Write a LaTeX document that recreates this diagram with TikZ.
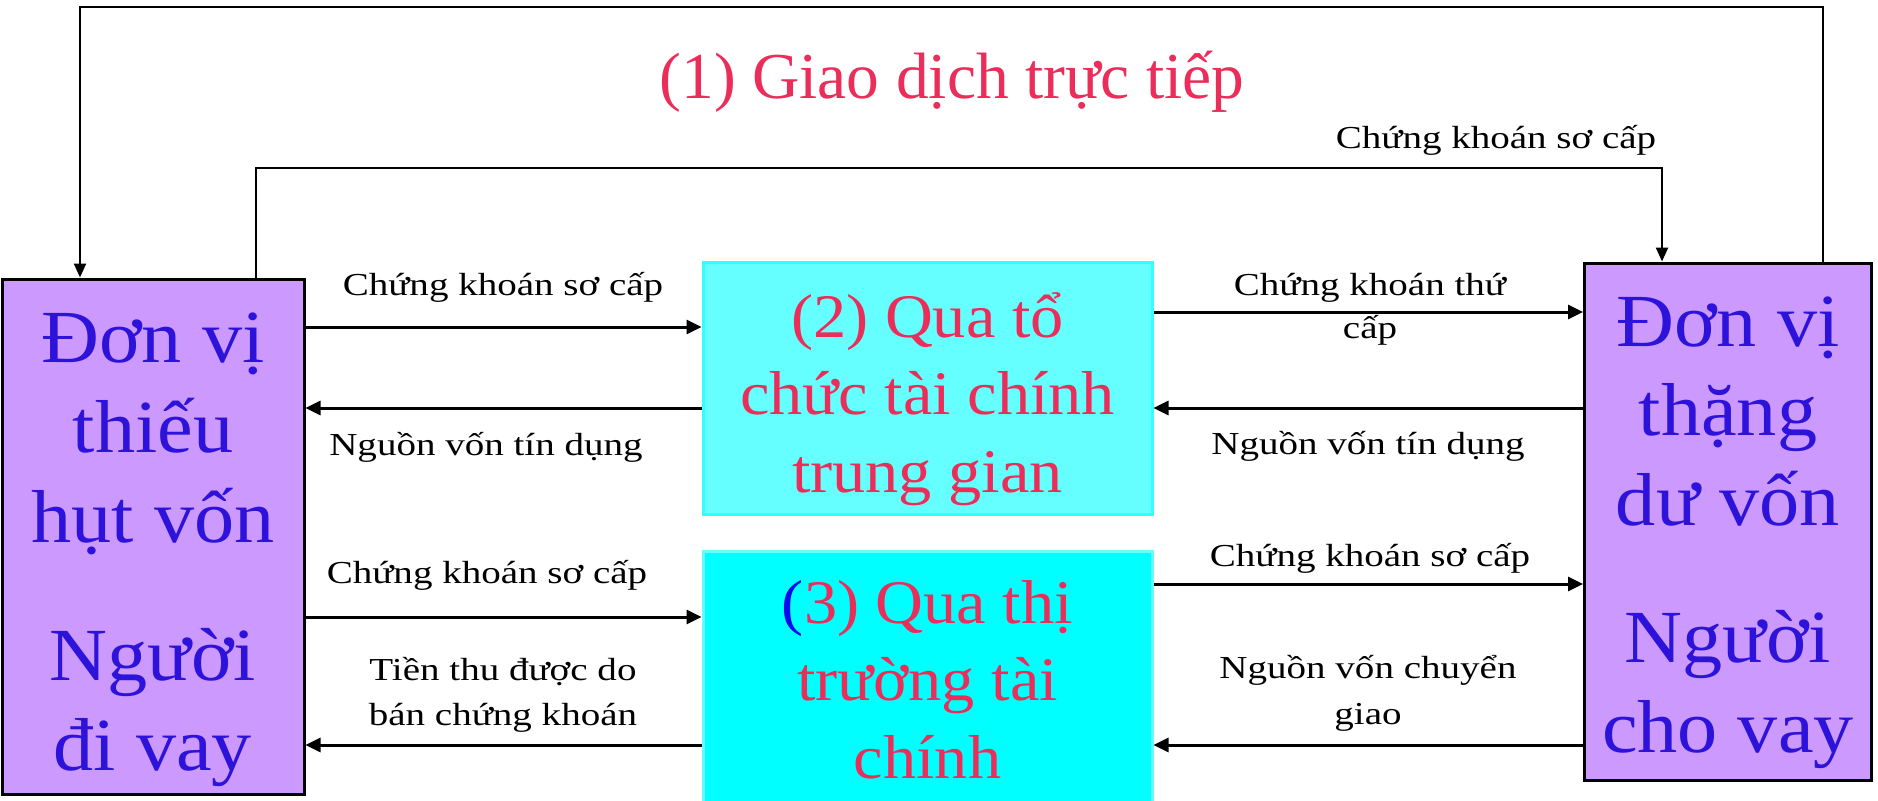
\documentclass[tikz,border=0pt]{standalone}
\usepackage{fontspec}
\setmainfont{Liberation Serif}
\newfontfamily\labelfont[FakeStretch=1.22]{Liberation Serif}
\newfontfamily\boxfont[FakeStretch=1.07]{Liberation Serif}
\usetikzlibrary{arrows.meta}

\definecolor{lilac}{HTML}{CC99FF}
\definecolor{aquaA}{HTML}{66FFFF}
\definecolor{aquaAedge}{HTML}{33FFFF}
\definecolor{aquaB}{HTML}{00FFFF}
\definecolor{aquaBedge}{HTML}{66FFFF}
\definecolor{inkblue}{HTML}{2D12D9}
\definecolor{parenblue}{HTML}{0A0AEE}
\definecolor{inkred}{HTML}{EB2D5A}

\begin{document}
\begin{tikzpicture}[x=1pt, y=-1pt,
  party/.style={draw=black, line width=3pt, fill=lilac, inner sep=0pt},
  channelA/.style={draw=aquaAedge, line width=3pt, fill=aquaA, inner sep=0pt},
  channelB/.style={draw=aquaBedge, line width=3pt, fill=aquaB, inner sep=0pt},
  bigtext/.style={text=inkblue, align=center, anchor=base, inner sep=0pt},
  midtext/.style={text=inkred, align=center, anchor=base, inner sep=0pt,
    font=\boxfont\fontsize{62}{77.5}\selectfont},
  flowlabel/.style={align=center, anchor=base, inner sep=0pt,
    font=\labelfont\fontsize{32}{44}\selectfont},
  flow/.style={line width=3pt, -{Triangle[length=15pt,width=14pt]}},
  link/.style={line width=2.4pt, -{Triangle[length=14pt,width=12pt]}},
]
% page frame
\clip (0,0) rectangle (1878,800);
\fill[white] (0,0) rectangle (1878,800);

% the two parties and the two channels between them
\node[party, minimum width=302pt, minimum height=515pt] (borrower) at (153,536.5) {};
\node[party, minimum width=287pt, minimum height=517pt] (lender) at (1728,521.5) {};
\node[channelA, minimum width=449pt, minimum height=252pt] (banks) at (927.5,388.5) {};
\node[channelB, minimum width=449pt, minimum height=279pt] (market) at (927.5,690.5) {};

% box texts (each node sits on the baseline of its last line)
\node[bigtext, font=\boxfont\fontsize{75}{90}\selectfont] (borrowertext) at (153,770)
  {Đơn vị\\thiếu\\hụt vốn\\[48pt]Người\\đi vay};
\node[bigtext, font=\boxfont\fontsize{75}{89.5}\selectfont] (lendertext) at (1728,752)
  {Đơn vị\\thặng\\dư vốn\\[48pt]Người\\cho vay};
\node[midtext] (bankstext) at (927.5,492)
  {(2) Qua tổ\\chức tài chính\\trung gian};
\node[midtext] (markettext) at (927.5,778)
  {{\color{parenblue}(}3) Qua thị\\trường tài\\chính};

% direct finance
\node[text=inkred, anchor=base, inner sep=0pt, font=\fontsize{65.5}{70}\selectfont]
  (direct) at (952,98) {(1) Giao dịch trực tiếp};
\coordinate (topL) at (80,7);
\coordinate (topR) at (1823,7);
\coordinate (midL) at (256,168);
\coordinate (midR) at (1662,168);
\draw[link] (lender.north -| topR) -- (topR) -- (topL) -- (borrower.north -| topL);
\draw[link] (borrower.north -| midL) -- (midL) -- (midR) -- (lender.north -| midR);
\node[flowlabel] (directlabel) at (1496,148) {Chứng khoán sơ cấp};

% flows through the intermediaries
\draw[flow] (borrower.east |- 0,327) -- (banks.west |- 0,327);
\draw[flow] (banks.west |- 0,408) -- (borrower.east |- 0,408);
\draw[flow] (banks.east |- 0,312) -- (lender.west |- 0,312);
\draw[flow] (lender.west |- 0,408) -- (banks.east |- 0,408);
\node[flowlabel] (l1) at (503,295) {Chứng khoán sơ cấp};
\node[flowlabel] (l2) at (486,455) {Nguồn vốn tín dụng};
\node[flowlabel, font=\labelfont\fontsize{32}{43}\selectfont] (r1) at (1370,338) {Chứng khoán thứ\\cấp};
\node[flowlabel] (r2) at (1368,454) {Nguồn vốn tín dụng};

% flows through the market
\draw[flow] (borrower.east |- 0,617) -- (market.west |- 0,617);
\draw[flow] (market.west |- 0,745) -- (borrower.east |- 0,745);
\draw[flow] (market.east |- 0,584) -- (lender.west |- 0,584);
\draw[flow] (lender.west |- 0,745) -- (market.east |- 0,745);
\node[flowlabel] (l3) at (487,583) {Chứng khoán sơ cấp};
\node[flowlabel, font=\labelfont\fontsize{32}{45}\selectfont] (l4) at (503,725) {Tiền thu được do\\bán chứng khoán};
\node[flowlabel] (r3) at (1370,566) {Chứng khoán sơ cấp};
\node[flowlabel, font=\labelfont\fontsize{32}{46}\selectfont] (r4) at (1368,724) {Nguồn vốn chuyển\\giao};
\end{tikzpicture}
\end{document}
